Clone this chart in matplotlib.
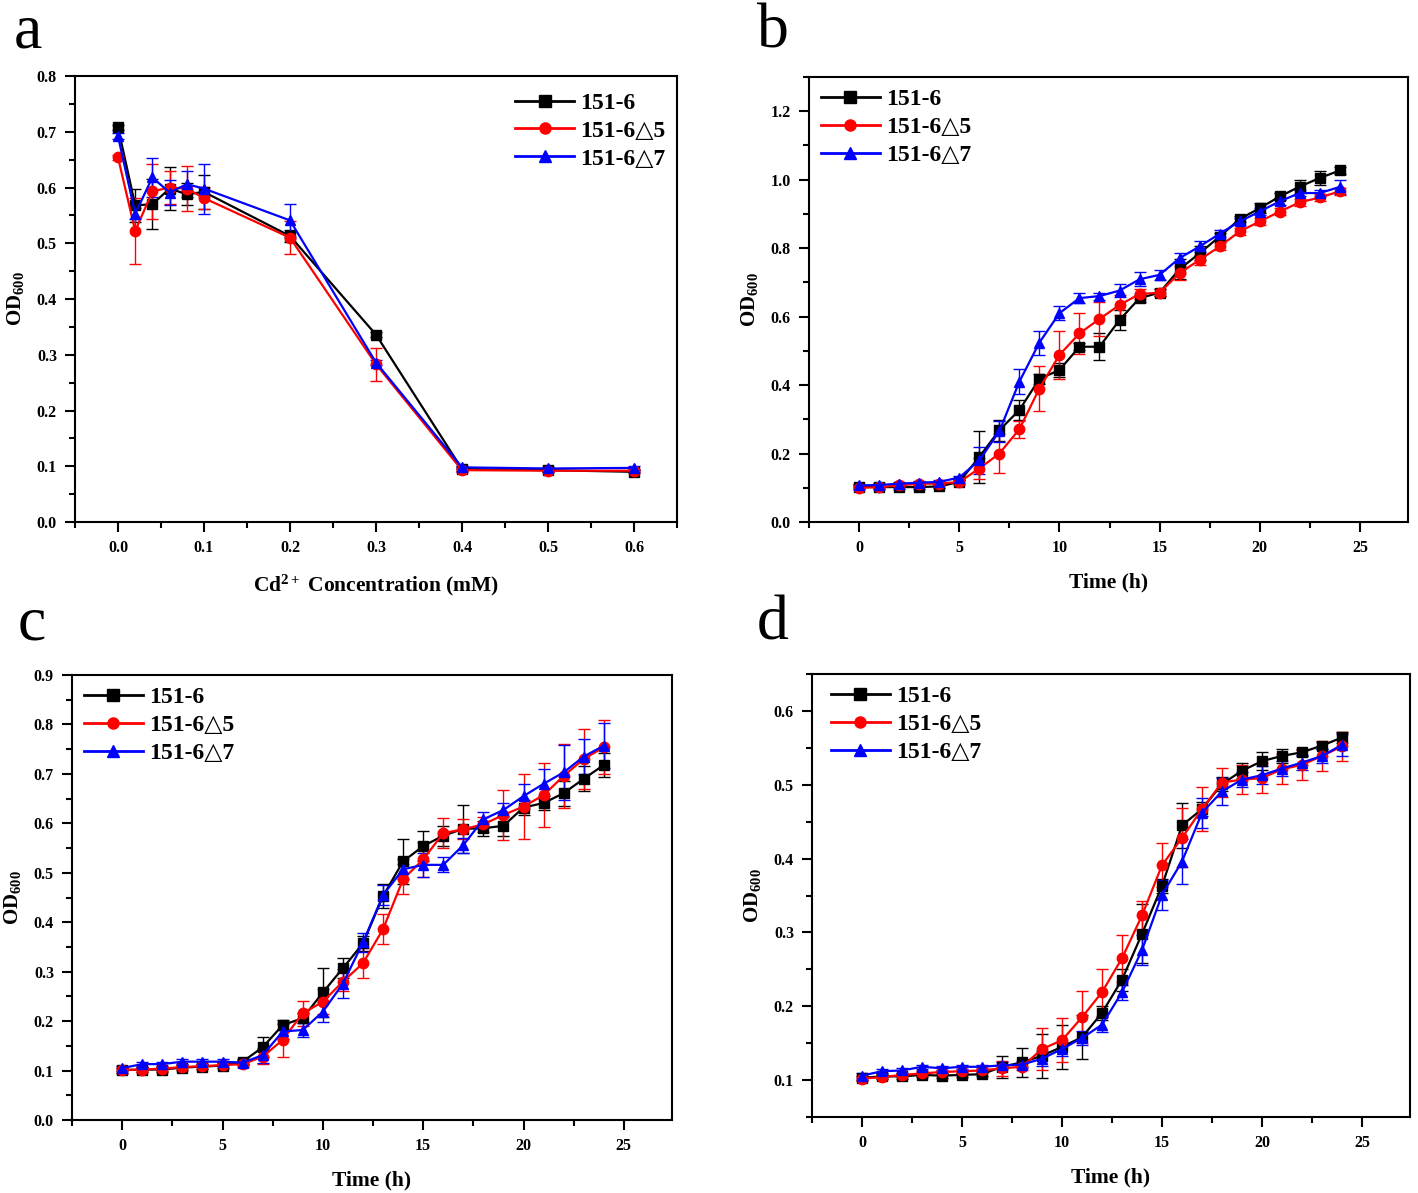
import matplotlib
matplotlib.use("Agg")
import matplotlib.pyplot as plt
from matplotlib.lines import Line2D
from matplotlib.ticker import MultipleLocator, FormatStrFormatter

plt.rcParams['font.family'] = ['Liberation Serif', 'DejaVu Sans']
plt.rcParams['font.weight'] = 'bold'
plt.rcParams['mathtext.fontset'] = 'custom'
plt.rcParams['mathtext.rm'] = 'Liberation Serif:bold'
plt.rcParams['mathtext.bf'] = 'Liberation Serif:bold'
plt.rcParams['mathtext.it'] = 'Liberation Serif:bold'

labels = ["151-6", "151-6△5", "151-6△7"]
colors = ["black", "red", "blue"]
markers = ["s", "o", "^"]

# Panel a
conc = [0.0, 0.02, 0.04, 0.06, 0.08, 0.1, 0.2, 0.3, 0.4, 0.5, 0.6]
a_wt = [0.708, 0.568, 0.570, 0.598, 0.588, 0.592, 0.513, 0.336, 0.095, 0.093, 0.090]
a_d5 = [0.654, 0.522, 0.593, 0.600, 0.598, 0.581, 0.510, 0.283, 0.093, 0.092, 0.092]
a_d7 = [0.692, 0.553, 0.618, 0.591, 0.606, 0.598, 0.541, 0.286, 0.098, 0.096, 0.097]
a_wt_err = [0.005, 0.03, 0.045, 0.038, 0.02, 0.03, 0.01, 0.005, 0.003, 0.003, 0.003]
a_d5_err = [0.005, 0.06, 0.05, 0.03, 0.04, 0.02, 0.03, 0.03, 0.003, 0.003, 0.003]
a_d7_err = [0.005, 0.01, 0.035, 0.023, 0.023, 0.045, 0.03, 0.005, 0.003, 0.003, 0.003]

hours = list(range(25))

# Panel b
b_wt = [0.102, 0.102, 0.102, 0.102, 0.104, 0.117, 0.190, 0.268, 0.327, 0.418, 0.444, 0.512, 0.512,
        0.590, 0.654, 0.670, 0.739, 0.785, 0.834, 0.885, 0.917, 0.951, 0.980, 1.005, 1.027]
b_d5 = [0.100, 0.102, 0.107, 0.112, 0.112, 0.117, 0.156, 0.200, 0.271, 0.390, 0.488, 0.551, 0.593,
        0.634, 0.666, 0.670, 0.727, 0.766, 0.805, 0.849, 0.878, 0.907, 0.934, 0.948, 0.966]
b_d7 = [0.107, 0.108, 0.112, 0.115, 0.117, 0.130, 0.180, 0.265, 0.410, 0.524, 0.610, 0.654, 0.660,
        0.676, 0.709, 0.722, 0.771, 0.805, 0.842, 0.878, 0.907, 0.937, 0.961, 0.961, 0.979]
b_wt_err = [0.005] * 6 + [0.075, 0.03, 0.03, 0.015, 0.02, 0.01, 0.04, 0.03, 0.01, 0.01, 0.03,
                          0.02, 0.01, 0.01, 0.015, 0.01, 0.02, 0.02, 0.01]
b_d5_err = [0.005] * 6 + [0.03, 0.056, 0.025, 0.065, 0.07, 0.06, 0.05, 0.03, 0.015, 0.01, 0.02,
                          0.015, 0.01, 0.01, 0.01, 0.01, 0.01, 0.01, 0.01]
b_d7_err = [0.005] * 6 + [0.04, 0.03, 0.036, 0.035, 0.02, 0.015, 0.01, 0.02, 0.02, 0.015, 0.015,
                          0.015, 0.01, 0.01, 0.01, 0.01, 0.01, 0.01, 0.02]

# Panel c
c_wt = [0.101, 0.102, 0.102, 0.106, 0.108, 0.110, 0.118, 0.147, 0.192, 0.206, 0.258, 0.307, 0.357,
        0.453, 0.523, 0.554, 0.575, 0.589, 0.590, 0.595, 0.632, 0.641, 0.661, 0.690, 0.718]
c_d5 = [0.101, 0.102, 0.104, 0.107, 0.109, 0.111, 0.113, 0.128, 0.162, 0.216, 0.239, 0.280, 0.317,
        0.386, 0.487, 0.527, 0.580, 0.588, 0.598, 0.617, 0.634, 0.657, 0.696, 0.730, 0.754]
c_d7 = [0.105, 0.113, 0.113, 0.118, 0.118, 0.118, 0.116, 0.131, 0.179, 0.182, 0.219, 0.276, 0.359,
        0.455, 0.507, 0.516, 0.516, 0.556, 0.608, 0.627, 0.655, 0.680, 0.703, 0.735, 0.757]
c_wt_err = [0.005] * 7 + [0.02, 0.01, 0.01, 0.05, 0.02, 0.015, 0.025, 0.045, 0.03, 0.02, 0.048,
                          0.015, 0.02, 0.015, 0.015, 0.025, 0.025, 0.025]
c_d5_err = [0.005] * 7 + [0.015, 0.035, 0.025, 0.025, 0.02, 0.03, 0.03, 0.03, 0.035, 0.03, 0.02,
                          0.015, 0.05, 0.065, 0.065, 0.065, 0.06, 0.055]
c_d7_err = [0.005] * 7 + [0.015, 0.015, 0.015, 0.02, 0.03, 0.02, 0.02, 0.02, 0.025, 0.015, 0.015,
                          0.015, 0.015, 0.025, 0.03, 0.055, 0.035, 0.045]

# Panel d
d_wt = [0.103, 0.105, 0.105, 0.107, 0.106, 0.107, 0.108, 0.118, 0.124, 0.133, 0.145, 0.158, 0.191,
        0.236, 0.298, 0.363, 0.445, 0.467, 0.501, 0.519, 0.532, 0.539, 0.544, 0.553, 0.564]
d_d5 = [0.102, 0.104, 0.107, 0.109, 0.111, 0.112, 0.113, 0.116, 0.118, 0.142, 0.154, 0.185, 0.219,
        0.265, 0.323, 0.391, 0.428, 0.467, 0.503, 0.507, 0.509, 0.521, 0.527, 0.539, 0.552]
d_d7 = [0.106, 0.112, 0.113, 0.118, 0.116, 0.118, 0.118, 0.120, 0.121, 0.129, 0.142, 0.157, 0.175,
        0.219, 0.276, 0.351, 0.396, 0.462, 0.491, 0.507, 0.513, 0.522, 0.530, 0.539, 0.554]
d_wt_err = [0.003] * 7 + [0.015, 0.02, 0.03, 0.03, 0.03, 0.01, 0.015, 0.04, 0.01, 0.03, 0.01,
                          0.01, 0.01, 0.012, 0.01, 0.005, 0.005, 0.008]
d_d5_err = [0.003] * 7 + [0.01, 0.005, 0.028, 0.03, 0.035, 0.032, 0.032, 0.02, 0.03, 0.04, 0.03,
                          0.02, 0.02, 0.02, 0.02, 0.02, 0.02, 0.02]
d_d7_err = [0.003] * 7 + [0.005, 0.005, 0.01, 0.01, 0.01, 0.01, 0.01, 0.02, 0.02, 0.03, 0.02,
                          0.018, 0.01, 0.012, 0.01, 0.01, 0.01, 0.015]

W, H = 1418, 1193
fig = plt.figure(figsize=(W / 100, H / 100), dpi=100)


def add_ax(l, t, r, b):
    return fig.add_axes([l / W, 1 - b / H, (r - l) / W, (b - t) / H])


def style(ax, xlim, ylim, xmaj, xmin, ymaj, ymin, xfmt, yfmt, xlabel):
    ax.set_xlim(*xlim)
    ax.set_ylim(*ylim)
    ax.xaxis.set_major_locator(MultipleLocator(xmaj))
    ax.xaxis.set_minor_locator(MultipleLocator(xmin))
    ax.yaxis.set_major_locator(MultipleLocator(ymaj))
    ax.yaxis.set_minor_locator(MultipleLocator(ymin))
    ax.xaxis.set_major_formatter(FormatStrFormatter(xfmt))
    ax.yaxis.set_major_formatter(FormatStrFormatter(yfmt))
    ax.tick_params(which='both', direction='out', top=False, right=False, width=1.5)
    ax.tick_params(which='major', length=7, labelsize=11.5, pad=6)
    ax.tick_params(which='minor', length=4)
    for s in ax.spines.values():
        s.set_linewidth(1.5)
    ax.set_xlabel(xlabel, fontsize=15.5, fontweight='bold', labelpad=12)
    ax.set_ylabel("OD$_{600}$", fontsize=15, fontweight='bold', labelpad=8)


def plot_series(ax, x, ys, errs):
    for y, e, c, m, lab in zip(ys, errs, colors, markers, labels):
        ax.errorbar(x, y, yerr=e, color=c, marker=m, markersize=7.5, lw=1.6,
                    elinewidth=1.0, capsize=4, capthick=1.0)


def add_legend(ax, loc, anchor):
    handles = [Line2D([], [], color=c, marker=m, markersize=8, lw=2.0)
               for c, m in zip(colors, markers)]
    ax.legend(handles, labels, loc=loc, bbox_to_anchor=anchor, frameon=False,
              fontsize=17, handlelength=2.5, handletextpad=0.25, labelspacing=0.27,
              borderpad=0.0)


# a
axa = add_ax(75, 76, 677, 522)
plot_series(axa, conc, [a_wt, a_d5, a_d7], [a_wt_err, a_d5_err, a_d7_err])
style(axa, (-0.05, 0.65), (0, 0.8), 0.1, 0.05, 0.1, 0.05, '%.1f', '%.1f',
      "Cd$^{2+}$ Concentration (mM)")
add_legend(axa, 'upper right', (1.0, 0.99))

# b
axb = add_ax(809, 77, 1408, 522)
plot_series(axb, hours, [b_wt, b_d5, b_d7], [b_wt_err, b_d5_err, b_d7_err])
style(axb, (-2.5, 27.4), (0, 1.3), 5, 2.5, 0.2, 0.1, '%d', '%.1f', "Time (h)")
add_legend(axb, 'upper left', (0.0, 1.0))

# c
axc = add_ax(72, 675, 672, 1120)
plot_series(axc, hours, [c_wt, c_d5, c_d7], [c_wt_err, c_d5_err, c_d7_err])
style(axc, (-2.5, 27.4), (0, 0.9), 5, 2.5, 0.1, 0.05, '%d', '%.1f', "Time (h)")
add_legend(axc, 'upper left', (0.0, 1.0))

# d
axd = add_ax(812, 674, 1410, 1117)
plot_series(axd, hours, [d_wt, d_d5, d_d7], [d_wt_err, d_d5_err, d_d7_err])
style(axd, (-2.5, 27.4), (0.05, 0.65), 5, 2.5, 0.1, 0.05, '%d', '%.1f', "Time (h)")
add_legend(axd, 'upper left', (0.012, 1.0))

for txt, x, y in [("a", 14, 48), ("b", 757, 48), ("c", 18, 640), ("d", 757, 640)]:
    fig.text(x / W, 1 - y / H, txt, fontsize=46, fontweight='normal',
             family=['Liberation Serif'], ha='left', va='baseline')

fig.savefig("out.png", dpi=100)
